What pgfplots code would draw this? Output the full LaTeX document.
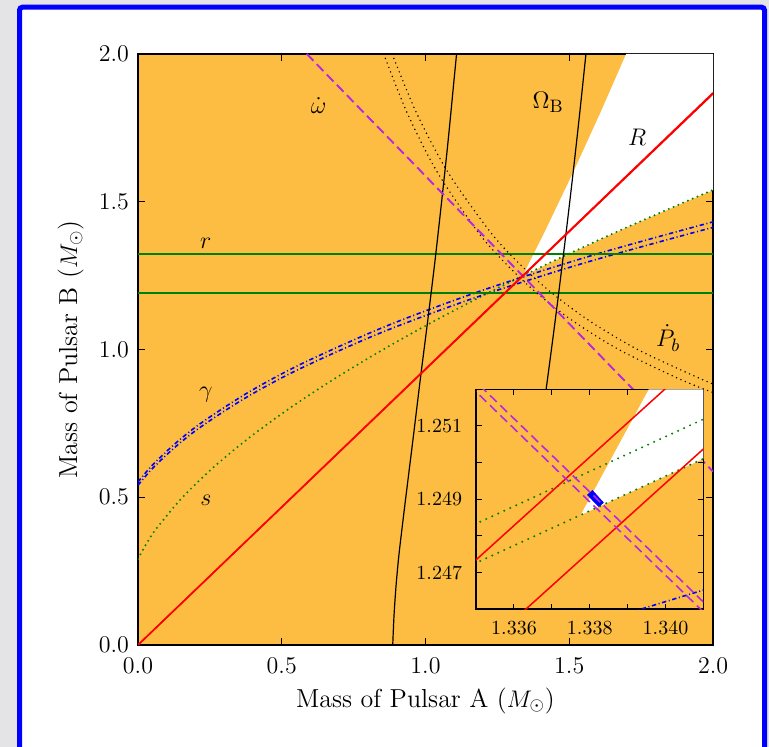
\documentclass[border=0pt]{standalone}
\usepackage{pgfplots}
\pgfplotsset{compat=1.18}
\definecolor{shade}{RGB}{252,189,66}
\definecolor{mgreen}{RGB}{0,128,0}
\definecolor{mmag}{RGB}{185,40,225}
\definecolor{slidebg}{RGB}{228,228,230}
\pgfplotsset{
  sdot/.style={mgreen, line width=1.1pt, line cap=round, dash pattern=on 0pt off 2.6pt},
  pbdot/.style={black, line width=0.8pt, line cap=round, dash pattern=on 0pt off 2.4pt},
  gdash/.style={blue, line width=0.8pt, dash pattern=on 2.2pt off 1.3pt on 0.5pt off 1.3pt},
  mdash/.style={mmag, line width=0.8pt, dash pattern=on 4.7pt off 2.5pt},
  omb/.style={black, line width=0.6pt},
  rline/.style={red, line width=0.75pt},
}
\begin{document}
\begin{tikzpicture}
\path[use as bounding box] (0,0) rectangle (384.5pt,373.5pt);
\fill[slidebg] (0,0) rectangle (384.5pt,373.5pt);
\fill[white] (9.75pt,-10pt) rectangle (382.25pt,369.9pt);
\draw[blue, line width=2.5pt, rounded corners=1.5pt] (9.75pt,-10pt) -- (9.75pt,369.9pt) -- (382.25pt,369.9pt) -- (382.25pt,-10pt);

% main mass-mass diagram
\begin{axis}[
  name=main, at={(69pt,51pt)}, anchor=south west, scale only axis,
  width=287.5pt, height=295.5pt,
  xmin=0, xmax=2, ymin=0, ymax=2,
  axis background/.style={fill=shade},
  xtick={0,0.5,1,1.5,2}, xticklabels={$0.0$,$0.5$,$1.0$,$1.5$,$2.0$},
  ytick={0,0.5,1,1.5,2}, yticklabels={$0.0$,$0.5$,$1.0$,$1.5$,$2.0$},
  major tick length=3.5pt,
  every tick/.style={black, line width=0.5pt},
  axis line style={line width=0.6pt},
  tick label style={font=\fontsize{13}{15}\selectfont},
  xticklabel style={yshift=-3pt},
  yticklabel style={xshift=-1pt},
  xlabel={Mass of Pulsar A ($M_\odot$)},
  ylabel={Mass of Pulsar B ($M_\odot$)},
  label style={font=\fontsize{13}{15}\selectfont},
  xlabel style={at={(axis description cs:0.5,-0.094)}, anchor=center},
  ylabel style={at={(axis description cs:-0.117,0.5)}, anchor=center},
]
% allowed region
\addplot[fill=white, draw=none] coordinates {
  (1.33776,1.24857) (1.4158,1.4) (1.5141,1.6) (1.6079,1.8) (1.698,2.0)
  (2,2) (2,1.5389) (1.9055,1.5) (1.6707,1.4) (1.4476,1.3)} -- cycle;

% s
\addplot[sdot, smooth] coordinates {
  (0,0.29131) (0.0336,0.35) (0.0687,0.4) (0.1551,0.5) (0.2611,0.6) (0.3851,0.7)
  (0.5258,0.8) (0.6819,0.9) (0.8528,1.0) (1.0376,1.1) (1.2356,1.2) (1.4463,1.3)
  (1.6692,1.4) (1.9038,1.5) (2.0009,1.54)};

% gamma
\addplot[gdash, smooth] coordinates {
  (0,0.55174) (0.02931,0.58617) (0.06205,0.62049) (0.13773,0.68865) (0.22683,0.75610)
  (0.38503,0.85562) (0.57171,0.95285) (0.86328,1.07910) (1.20132,1.20132)
  (1.58335,1.31946) (2.00736,1.43383) (2.23431,1.48954)};
\addplot[gdash, smooth] coordinates {
  (0,0.54046) (0.02871,0.57418) (0.06078,0.60781) (0.13492,0.67458) (0.22220,0.74065)
  (0.37716,0.83813) (0.56002,0.93337) (0.84562,1.05703) (1.17675,1.17675)
  (1.55100,1.29250) (1.96631,1.40451) (2.18862,1.45908)};

% r
\addplot[mgreen, line width=0.8pt] coordinates {(0,1.1902) (2,1.1902)};
\addplot[mgreen, line width=0.8pt] coordinates {(0,1.3232) (2,1.3232)};

% Pdot_b
\addplot[pbdot, smooth] coordinates {
  (0.8547,2.0) (0.9365,1.8) (1.041,1.6) (1.1805,1.4) (1.2696,1.3) (1.3767,1.2)
  (1.5077,1.1) (1.6721,1.0) (1.8833,0.9) (2.0127,0.85)};
\addplot[pbdot, smooth] coordinates {
  (0.884,2.0) (0.969,1.8) (1.0779,1.6) (1.2235,1.4) (1.3164,1.3) (1.4285,1.2)
  (1.5655,1.1) (1.7377,1.0) (1.9587,0.9) (2.0379,0.87)};

% Omega_B
\addplot[omb, smooth] coordinates {
  (0.886,0) (0.8905,0.1) (0.8975,0.2) (0.907,0.3) (0.919,0.4) (0.9315,0.5)
  (0.957,0.7) (0.982,0.9) (1.008,1.1) (1.033,1.3) (1.056,1.5) (1.078,1.7)
  (1.098,1.9) (1.108,2.0)};
\addplot[omb, smooth] coordinates {
  (1.3816,0.6) (1.4104,0.8) (1.438,1.0) (1.4644,1.2) (1.4896,1.4) (1.5136,1.6)
  (1.5364,1.8) (1.558,2.0)};

% omega dot
\addplot[mdash] coordinates {(0.58693,2) (2,0.58693)};
\addplot[mdash] coordinates {(0.5872,2) (2,0.5872)};

% R
\addplot[rline] coordinates {(0,0) (2,1.86869)};
\addplot[rline] coordinates {(0,0) (2,1.86484)};

\begin{scope}[font=\fontsize{13}{15}\selectfont]
\node at (axis cs:0.236,1.360) {$r$};
\node at (axis cs:0.236,0.846) {$\gamma$};
\node at (axis cs:0.236,0.491) {$s$};
\node at (axis cs:0.628,1.827) {$\dot\omega$};
\node at (axis cs:1.427,1.838) {$\Omega_{\rm B}$};
\node at (axis cs:1.736,1.719) {$R$};
\node at (axis cs:1.844,1.039) {$\dot P_b$};
\end{scope}
\end{axis}

% inset
\begin{axis}[
  at={(238.05pt,68.85pt)}, anchor=south west, scale only axis,
  width=113.65pt, height=110pt,
  xmin=1.335, xmax=1.341, ymin=1.246, ymax=1.252,
  axis background/.style={fill=shade},
  scaled ticks=false,
  xtick={1.336,1.337,1.338,1.339,1.340},
  xticklabels={{$1.336$},{},{$1.338$},{},{$1.340$}},
  ytick={1.247,1.248,1.249,1.250,1.251},
  yticklabels={{$1.247$},{},{$1.249$},{},{$1.251$}},
  major tick length=2.8pt,
  every tick/.style={black, line width=0.5pt},
  axis line style={line width=0.8pt},
  tick label style={font=\fontsize{10}{12}\selectfont},
  xticklabel style={yshift=-2.5pt},
  yticklabel style={xshift=-3.5pt},
]
\addplot[fill=white, draw=none] coordinates {
  (1.33776,1.24857) (1.33956,1.252) (1.342,1.252) (1.342,1.25058)} -- cycle;
\addplot[sdot, dash pattern=on 0pt off 3.3pt] coordinates {(1.334,1.24786) (1.342,1.25166)};
\addplot[sdot, dash pattern=on 0pt off 3.3pt] coordinates {(1.334,1.24679) (1.342,1.25058)};
\addplot[rline] coordinates {(1.334,1.246415) (1.342,1.253889)};
\addplot[rline] coordinates {(1.334,1.243846) (1.342,1.251305)};
\addplot[gdash] coordinates {(1.3375,1.24542) (1.342,1.24684)};
\addplot[fill=blue, draw=blue, line width=0.3pt] coordinates {
  (1.33794,1.24912) (1.33807,1.24924) (1.33836,1.24891) (1.33824,1.24880)} -- cycle;
\addplot[mdash] coordinates {(1.334,1.25293) (1.342,1.24493)};
\addplot[mdash] coordinates {(1.334,1.2532) (1.342,1.2452)};
\end{axis}
\end{tikzpicture}
\end{document}
